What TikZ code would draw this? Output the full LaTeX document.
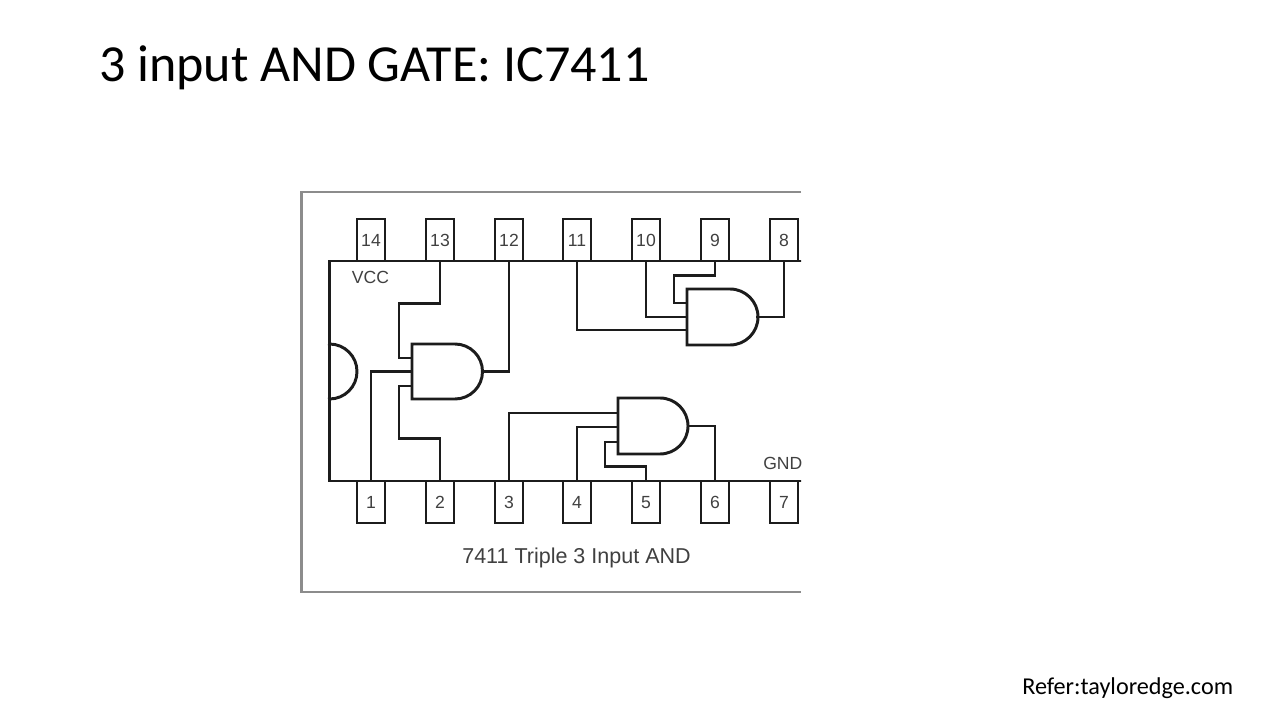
\documentclass[tikz,border=0pt]{standalone}
\usepackage{fontspec}
\setmainfont{Carlito}
\newfontfamily\chipfont{Liberation Sans}
\definecolor{chipline}{HTML}{1C1C1C}
\definecolor{chiptext}{HTML}{404040}
\definecolor{framegray}{HTML}{8C8C8C}
\tikzset{
  pin/.style={draw=chipline, line width=2.1pt, minimum width=0.7cm, minimum height=1.05cm, inner sep=0pt, text height=9pt, text depth=0pt, text=chiptext, font=\chipfont\fontsize{12.5}{15}\selectfont},
  wire/.style={draw=chipline, line width=2.1pt, line cap=rect},
  chiplabel/.style={text=chiptext, inner sep=0pt, font=\chipfont\fontsize{12.5}{15}\selectfont},
  slidetext/.style={inner sep=0pt, anchor=west}
}
\begin{document}
\begin{tikzpicture}[x=0.025cm, y=-0.025cm]
\useasboundingbox (0,0) rectangle (1280,720);

\node[slidetext, font=\fontsize{37}{44}\selectfont] (title) at (99,68) {3 input AND GATE: IC7411};
\node[slidetext, font=\fontsize{17.2}{20}\selectfont] (refer) at (1022,688) {Refer:tayloredge.com};

\begin{scope}
\clip (295,185) rectangle (801,600);

% picture frame, open on the right
\draw[framegray, line width=1.5pt] (801,192) -- (301.5,192) -- (301.5,592) -- (801,592);

% chip body and notch
\draw[wire] (810,261) -- (329.5,261) -- (329.5,481) -- (810,481);
\draw[wire] (329.5,344) arc[start angle=-90, end angle=90, radius=27.5];

% upper pins
\node[pin] (p14) at (371,240) {14};
\node[pin] (p13) at (440,240) {13};
\node[pin] (p12) at (509,240) {12};
\node[pin] (p11) at (577,240) {11};
\node[pin] (p10) at (646,240) {10};
\node[pin] (p9) at (715,240) {9};
\node[pin] (p8) at (784,240) {8};

% lower pins
\node[pin] (p1) at (371,502) {1};
\node[pin] (p2) at (440,502) {2};
\node[pin] (p3) at (509,502) {3};
\node[pin] (p4) at (577,502) {4};
\node[pin] (p5) at (646,502) {5};
\node[pin] (p6) at (715,502) {6};
\node[pin] (p7) at (784,502) {7};

\node[chiplabel] (vcc) at (370.5,277) {VCC};
\node[chiplabel, anchor=west] (gnd) at (763,463) {GND};
\node[chiplabel, font=\chipfont\fontsize{15.3}{18}\selectfont] (caption) at (576.5,557.5) {7411 Triple 3 Input AND};

% gate on the left
\coordinate (gatea) at (412,344);
\coordinate (ina1) at (412,358);
\coordinate (ina2) at (412,371.5);
\coordinate (ina3) at (412,386);
\coordinate (outa) at (482,371.5);
\draw[wire] (gatea) -- ++(43,0) arc[start angle=-90, end angle=90, radius=27.5] -- ++(-43,0) -- cycle;
\draw[wire] (p13.south) |- ++(-41,41) |- (ina1);
\draw[wire] (p1.north) |- (ina2);
\draw[wire] (p2.north) |- ++(-41,-41) |- (ina3);
\draw[wire] (outa) -| (p12.south);

% gate on the upper right
\coordinate (gateb) at (687,289);
\coordinate (inb1) at (687,303);
\coordinate (inb2) at (687,317);
\coordinate (inb3) at (687,330);
\coordinate (outb) at (757,317);
\draw[wire] (gateb) -- ++(43,0) arc[start angle=-90, end angle=90, radius=28] -- ++(-43,0) -- cycle;
\draw[wire] (p9.south) |- ++(-41,13) |- (inb1);
\draw[wire] (p10.south) |- (inb2);
\draw[wire] (p11.south) |- (inb3);
\draw[wire] (outb) -| (p8.south);

% gate on the lower right
\coordinate (gatec) at (618,398);
\coordinate (inc1) at (618,413);
\coordinate (inc2) at (618,427);
\coordinate (inc3) at (618,442);
\coordinate (outc) at (688,426);
\draw[wire] (gatec) -- ++(42,0) arc[start angle=-90, end angle=90, radius=28] -- ++(-42,0) -- cycle;
\draw[wire] (p3.north) |- (inc1);
\draw[wire] (p4.north) |- (inc2);
\draw[wire] (p5.north) |- ++(-41,-13) |- (inc3);
\draw[wire] (outc) -| (p6.north);
\end{scope}

\end{tikzpicture}
\end{document}
